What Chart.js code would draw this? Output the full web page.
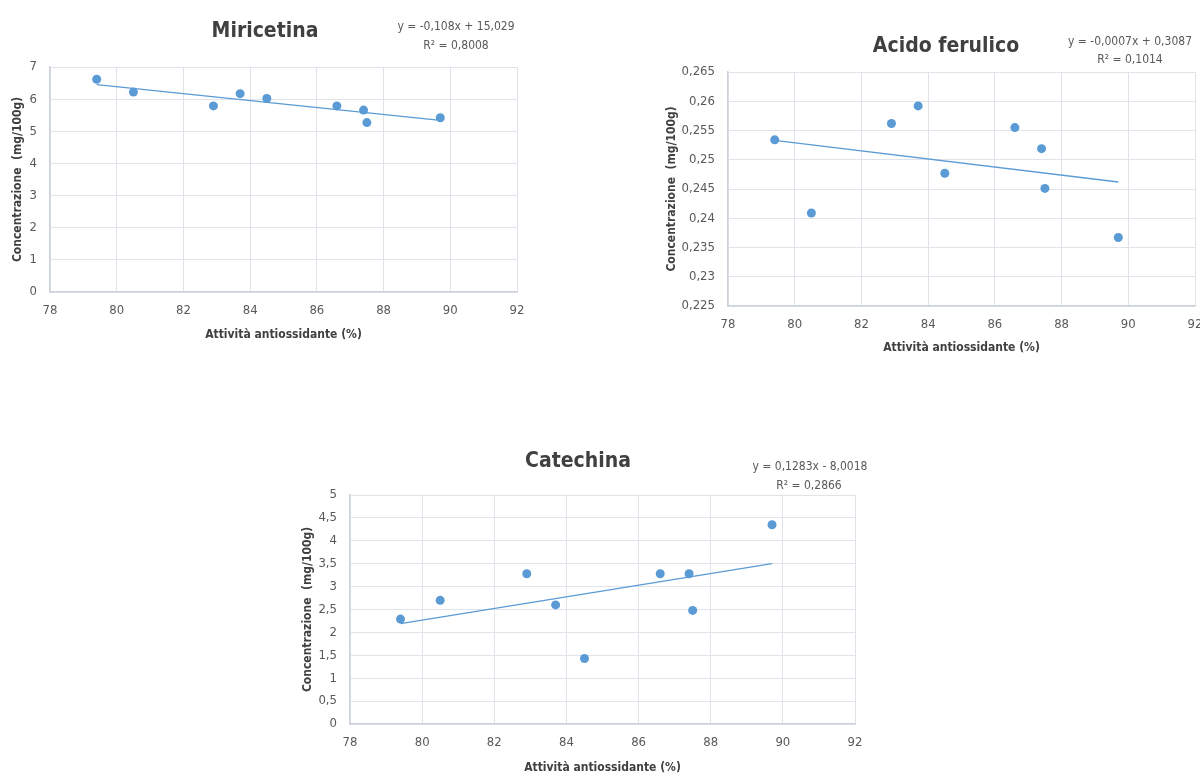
<!DOCTYPE html>
<html>
<head>
<meta charset="utf-8">
<script src="https://cdn.jsdelivr.net/npm/chart.js@4.4.1/dist/chart.umd.min.js"></script>
<style>
  html, body { margin:0; padding:0; background:#ffffff; width:1200px; height:775px; overflow:hidden; }
  .box { position:absolute; }
  .lbl { position:absolute; transform:translate(-50%,-50%); white-space:nowrap;
         font-family:'DejaVu Sans Condensed','Liberation Sans Narrow',sans-serif; }
  .ttl { font-weight:bold; font-size:21px; color:#404040; }
  .eq { font-size:12px; color:#595959; }
</style>
</head>
<body>
<div class="box" style="left:0px;top:0px;width:560px;height:350px;"><canvas id="c1"></canvas></div>
<div class="box" style="left:600px;top:0px;width:620px;height:360px;"><canvas id="c2"></canvas></div>
<div class="box" style="left:290px;top:440px;width:610px;height:340px;"><canvas id="c3"></canvas></div>

<div class="lbl ttl" style="left:265px;top:30px;">Miricetina</div>
<div class="lbl eq" style="left:456px;top:26px;">y = -0,108x + 15,029</div>
<div class="lbl eq" style="left:456px;top:45px;">R² = 0,8008</div>

<div class="lbl ttl" style="left:946px;top:45px;">Acido ferulico</div>
<div class="lbl eq" style="left:1130px;top:41px;">y = -0,0007x + 0,3087</div>
<div class="lbl eq" style="left:1130px;top:59px;">R² = 0,1014</div>

<div class="lbl ttl" style="left:578px;top:460px;">Catechina</div>
<div class="lbl eq" style="left:810px;top:466px;">y = 0,1283x - 8,0018</div>
<div class="lbl eq" style="left:809px;top:485px;">R² = 0,2866</div>

<script>
// ---- data ----
const activity = [79.4, 80.5, 82.9, 83.7, 84.5, 86.6, 87.4, 87.5, 89.7];
const miricetina = [6.62, 6.22, 5.79, 6.17, 6.02, 5.79, 5.66, 5.27, 5.42];
const acidoFerulico = [0.2534, 0.2409, 0.2562, 0.2592, 0.2477, 0.2555, 0.2519, 0.2451, 0.2367];
const catechina = [2.29, 2.70, 3.28, 2.60, 1.43, 3.28, 3.28, 2.48, 4.35];

const trendX = [79.4, 89.7];
const miricetinaTrend = [6.45, 5.34];
const ferulicoTrend = [0.2533, 0.2462];
const catechinaTrend = [2.19, 3.50];

const xTickRange = [78, 92, 2];
const miricetinaYRange = [0, 7, 1];
const ferulicoYRange = [0.225, 0.265, 0.005];
const catechinaYRange = [0, 5, 0.5];

const xTitle = 'Attività antiossidante (%)';
const yTitle = 'Concentrazione  (mg/100g)';

// ---- styling ----
const FONT = "'DejaVu Sans Condensed','Liberation Sans Narrow',sans-serif";
const BLUE = '#5b9bd5';
const GRID = '#e0e4ea';
const AXIS = '#cdd2da';

function fmt(v) {
  return String(parseFloat(Number(v).toFixed(4))).replace('.', ',');
}

function makeChart(id, ys, trendY, yRange, L) {
  const pts = activity.map((x, i) => ({x: x, y: ys[i]}));
  const tr = trendX.map((x, i) => ({x: x, y: trendY[i]}));
  return new Chart(document.getElementById(id), {
    type: 'scatter',
    data: {
      datasets: [
        { data: tr, showLine: true, borderColor: BLUE, borderWidth: 1.3,
          pointRadius: 0, order: 2 },
        { data: pts, backgroundColor: BLUE, borderColor: BLUE, borderWidth: 0,
          pointRadius: 4.5, pointHoverRadius: 4.5, order: 1 }
      ]
    },
    options: {
      responsive: true, maintainAspectRatio: false, animation: false,
      layout: { padding: { left: 0, right: L.right, top: L.top, bottom: 0 } },
      plugins: { legend: { display: false }, tooltip: { enabled: false }, title: { display: false } },
      scales: {
        x: {
          type: 'linear', min: xTickRange[0], max: xTickRange[1],
          afterFit: s => { s.height = L.xh; },
          ticks: { stepSize: xTickRange[2], padding: 11, color: '#595959',
                   font: { family: FONT, size: 13 }, callback: v => fmt(v) },
          grid: { color: GRID, drawTicks: false, lineWidth: 1 },
          border: { color: AXIS, width: 1.5 },
          title: { display: true, text: xTitle, color: '#404040',
                   font: { family: FONT, size: 12, weight: 'bold' },
                   padding: { top: 0, bottom: L.xtp } }
        },
        y: {
          type: 'linear', min: yRange[0], max: yRange[1],
          afterFit: s => { s.width = L.yw; },
          ticks: { stepSize: yRange[2], padding: 13, color: '#595959',
                   font: { family: FONT, size: 13 }, callback: v => fmt(v) },
          grid: { color: GRID, drawTicks: false, lineWidth: 1 },
          border: { color: AXIS, width: 1.5 },
          title: { display: true, text: yTitle, color: '#404040',
                   font: { family: FONT, size: 12, weight: 'bold' },
                   padding: { top: L.ytp, bottom: 0 } }
        }
      }
    }
  });
}

makeChart('c1', miricetina, miricetinaTrend, miricetinaYRange,
  { right: 43, top: 67, xh: 58, yw: 50, xtp: 7.8, ytp: 10.8 });
makeChart('c2', acidoFerulico, ferulicoTrend, ferulicoYRange,
  { right: 25, top: 72, xh: 54, yw: 128, xtp: 4.8, ytp: 64.8 });
makeChart('c3', catechina, catechinaTrend, catechinaYRange,
  { right: 45, top: 55, xh: 56, yw: 60, xtp: 4.8, ytp: 10.8 });
</script>
</body>
</html>
